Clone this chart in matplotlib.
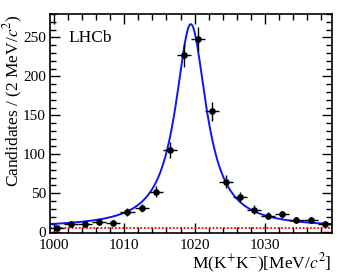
import numpy as np
import matplotlib
matplotlib.use("Agg")
import matplotlib.pyplot as plt
from matplotlib.ticker import MultipleLocator

plt.rcParams['font.family'] = ['Liberation Serif', 'DejaVu Serif']
plt.rcParams['mathtext.fontset'] = 'stix'

# Data: bin centres (MeV/c^2) and candidate counts
bin_centers = [1000.46, 1002.46, 1004.46, 1006.46, 1008.46, 1010.46, 1012.46,
               1014.46, 1016.46, 1018.46, 1020.46, 1022.46, 1024.46, 1026.46,
               1028.46, 1030.46, 1032.46, 1034.46, 1036.46, 1038.46]
counts = [5, 10, 11, 13, 12, 26, 31, 52, 105, 227, 248, 155, 65, 45, 29, 21,
          23, 16, 16, 11]
bin_half_width = 1.0

# Fit model parameters (Breit-Wigner signal + flat background)
fit_mass = 1019.46
fit_width = 5.3
fit_peak = 261.0
fit_bkg = 6.0

x_fit = np.linspace(999.46, 1039.46, 400)
signal = fit_peak / (1.0 + (2.0 * (x_fit - fit_mass) / fit_width) ** 2)
bkg = np.full_like(x_fit, fit_bkg)
total = signal + bkg

fig = plt.figure(figsize=(3.49, 2.76), dpi=100)
ax = fig.add_axes([50/349, 1 - 233/276, (331.7 - 50)/349, (233 - 14)/276])

ax.plot(x_fit, bkg, color='red', ls=(0, (1, 1)), lw=1.3)
ax.plot(x_fit, total, color='#0a14ff', lw=1.4)
ax.errorbar(bin_centers, counts, xerr=bin_half_width, yerr=np.sqrt(counts),
            fmt='o', color='black', ms=3.8, elinewidth=1.0, capsize=0)

ax.set_xlim(999.46, 1039.46)
ax.set_ylim(-1, 280)
ax.xaxis.set_major_locator(MultipleLocator(10))
ax.xaxis.set_minor_locator(MultipleLocator(2))
ax.yaxis.set_major_locator(MultipleLocator(50))
ax.yaxis.set_minor_locator(MultipleLocator(10))
ax.tick_params(which='both', direction='in', top=True, right=True,
               labelsize=11, width=1.0, pad=3)
ax.tick_params(axis='x', which='both', pad=4)
ax.tick_params(which='major', length=7)
ax.tick_params(which='minor', length=4)
for s in ax.spines.values():
    s.set_linewidth(1.2)

ax.set_xlabel(r'M(K$^{+}$K$^{-}$)[MeV/$c^{2}$]', fontsize=12.5, loc='right', labelpad=0)
ax.set_ylabel(r'Candidates / (2 MeV/$c^{2}$)', fontsize=12.5, loc='top')
ax.yaxis.set_label_coords(-0.09, 1.0)
ax.text(0.065, 0.87, 'LHCb', transform=ax.transAxes, fontsize=12.5)

fig.savefig('out.png', dpi=100)
